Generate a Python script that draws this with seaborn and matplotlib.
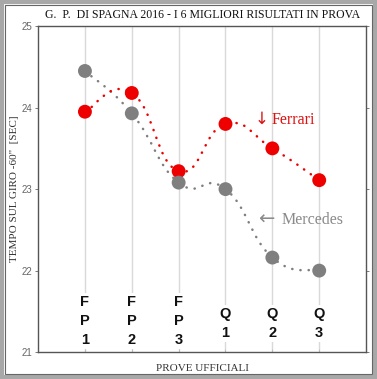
import numpy as np
import pandas as pd
import seaborn as sns
import matplotlib.pyplot as plt
from matplotlib.path import Path
from matplotlib.patches import PathPatch, Rectangle

sessions = ['FP1', 'FP2', 'FP3', 'Q1', 'Q2', 'Q3']
session_labels = ['F\nP\n1', 'F\nP\n2', 'F\nP\n3', 'Q\n1', 'Q\n2', 'Q\n3']
ferrari = [23.95, 24.18, 23.22, 23.80, 23.50, 23.11]
mercedes = [24.45, 23.93, 23.08, 23.00, 22.16, 22.00]
y_ticks = [21, 22, 23, 24, 25]

RED = '#ee0000'
GREY = '#7f7f7f'
TENSION = 0.24


def smooth_path(xs, ys, k=TENSION):
    # excel-style smoothed line: cubic bezier per segment
    pts = np.column_stack([xs, ys]).astype(float)
    ext = np.vstack([pts[0], pts, pts[-1]])
    verts = [tuple(pts[0])]
    codes = [Path.MOVETO]
    for i in range(1, len(ext) - 2):
        p0, p1, p2, p3 = ext[i - 1], ext[i], ext[i + 1], ext[i + 2]
        c1 = p1 + (p2 - p0) * k
        c2 = p2 - (p3 - p1) * k
        verts += [tuple(c1), tuple(c2), tuple(p2)]
        codes += [Path.CURVE4] * 3
    return Path(verts, codes)


df = pd.DataFrame({
    'x': list(range(1, 7)) * 2,
    'tempo': ferrari + mercedes,
    'team': ['Ferrari'] * 6 + ['Mercedes'] * 6,
})

sns.set_style('white')
fig = plt.figure(figsize=(3.77, 3.79), dpi=100)

fig.patches.append(Rectangle((0.004, 0.004), 0.992, 0.992, transform=fig.transFigure,
                             fill=False, edgecolor='#a8a8a8', lw=3, zorder=0))
fig.patches.append(Rectangle((0.012, 0.012), 0.976, 0.976, transform=fig.transFigure,
                             fill=False, edgecolor='#666666', lw=0.8, zorder=0))

ax = fig.add_axes([0.101, 0.071, 0.870, 0.860])

for x in range(1, 7):
    ax.axvline(x, color='#d9d9d9', lw=1.0, zorder=0)

for vals, col in [(mercedes, GREY), (ferrari, RED)]:
    patch = PathPatch(smooth_path(range(1, 7), vals), fill=False, edgecolor=col,
                      lw=1.8, linestyle=(0, (0.1, 3.2)), capstyle='round', zorder=2)
    ax.add_patch(patch)

sns.scatterplot(data=df, x='x', y='tempo', hue='team', palette={'Ferrari': RED, 'Mercedes': GREY},
                s=100, edgecolor='none', legend=False, ax=ax, zorder=3)

for i, lab in enumerate(session_labels):
    yy = 21.38 if lab.startswith('F') else 21.35
    ax.text(i + 1, yy, lab, ha='center', va='center', fontsize=10.5, fontweight='bold',
            family='Liberation Sans', linespacing=1.45, color='#111111',
            bbox=dict(facecolor='white', edgecolor='none', pad=1.5), zorder=4)

# team annotations with arrows
ax.text(4.77, 23.86, '\u2193', color='#dd1111', fontsize=12, family='DejaVu Sans',
        ha='center', va='center')
ax.text(4.99, 23.85, 'Ferrari', color='#dd1111', fontsize=11.5, family='Liberation Serif',
        ha='left', va='center')
ax.text(4.86, 22.63, '\u2190', color='#8a8a8a', fontsize=14, family='DejaVu Sans',
        ha='center', va='center')
ax.text(5.19, 22.62, 'Mercedes', color='#8a8a8a', fontsize=11.5, family='Liberation Serif',
        ha='left', va='center')

ax.set_xlim(0, 7)
ax.set_ylim(21, 25)
ax.set_xticks(range(1, 7))
ax.set_xticklabels([])
ax.set_yticks(y_ticks)
ax.set_yticklabels([str(t) for t in y_ticks], fontsize=7, color='#666666', family='Liberation Sans')
ax.tick_params(axis='y', which='both', left=True, right=True, length=2.5, width=0.6,
               color='#666666', pad=1.5)
ax.tick_params(axis='x', bottom=True, length=2, width=0.6, color='#bbbbbb', direction='in')
for sp in ax.spines.values():
    sp.set_color('#555555')
    sp.set_linewidth(1.0)
ax.set_xlabel('PROVE UFFICIALI', fontsize=8, family='Liberation Serif', color='#333333', labelpad=5)
ax.set_ylabel('TEMPO SUL GIRO -60"  [SEC]', fontsize=8, family='Liberation Serif', color='#333333')
ax.yaxis.set_label_coords(-0.058, 0.5)
fig.text(0.536, 0.960, 'G.  P.  DI SPAGNA 2016 - I 6 MIGLIORI RISULTATI IN PROVA', ha='center',
         va='center', fontsize=8.5, family='Liberation Serif', color='#111111')

fig.savefig('out.png', dpi=100)
